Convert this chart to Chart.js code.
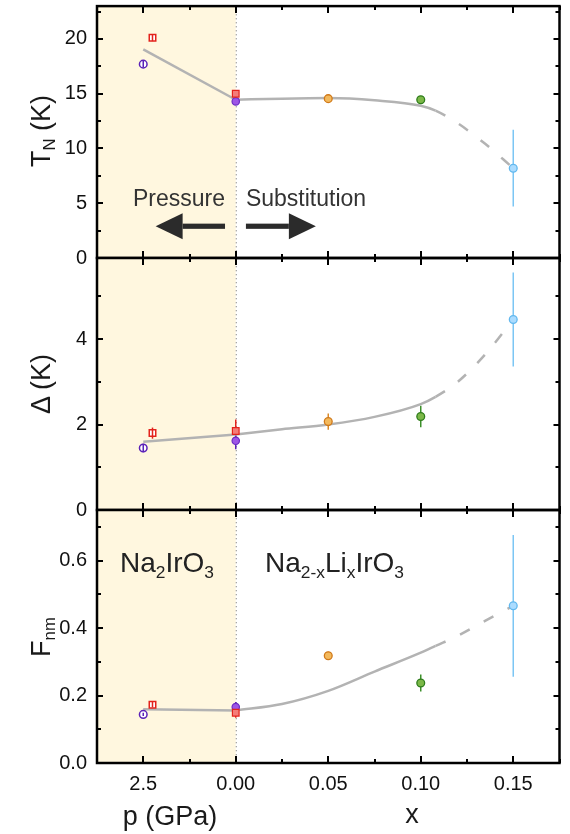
<!DOCTYPE html>
<html lang="en">
<head>
<meta charset="UTF-8">
<title>Na2IrO3: pressure vs Li substitution</title>
<script src="https://cdn.jsdelivr.net/npm/chart.js@4"></script>
<style>
  body { margin: 0; background: #fff; font-family: "Liberation Sans", Arial, sans-serif; }
  #wrap { position: relative; width: 570px; height: 834px; overflow: hidden; }
  canvas { position: absolute; left: 0; }
  .lbl { position: absolute; white-space: nowrap; color: #1a1a1a; line-height: 1; z-index: 5; }
  .ytitle { font-size: 27px; transform: translate(-50%, -50%) rotate(-90deg); }
  .xtitle { font-size: 27px; transform: translate(-50%, -50%); }
  .note { font-size: 23px; color: #333; transform: translate(-50%, -50%); }
  .formula { font-size: 28px; color: #222; transform: translateY(-50%); }
  .s { font-size: 0.62em; position: relative; top: 0.32em; }
</style>
</head>
<body>
<div id="wrap">
  <canvas id="tnChart" width="570" height="275" style="top:0px"></canvas>
  <canvas id="dChart" width="570" height="285" style="top:245px"></canvas>
  <canvas id="fChart" width="570" height="337" style="top:497px"></canvas>

  <div class="lbl ytitle" style="left:41px; top:131px">T<span class="s">N</span> (K)</div>
  <div class="lbl ytitle" style="left:41px; top:384px">&Delta; (K)</div>
  <div class="lbl ytitle" style="left:41px; top:637px">F<span class="s">nm</span></div>
  <div class="lbl xtitle" style="left:170px; top:816px">p (GPa)</div>
  <div class="lbl xtitle" style="left:412px; top:814px">x</div>
  <div class="lbl note" style="left:179px; top:198px">Pressure</div>
  <div class="lbl note" style="left:306px; top:198px">Substitution</div>
  <div class="lbl formula" style="left:120px; top:563px">Na<span class="s">2</span>IrO<span class="s">3</span></div>
  <div class="lbl formula" style="left:265px; top:563px">Na<span class="s">2-x</span>Li<span class="s">x</span>IrO<span class="s">3</span></div>
</div>

<script>
// shared x axis: substitution x on the right, pressure (GPa) folded to the left of 0
const GPA_TO_AXIS = -0.02;          // 2.5 GPa sits where x = -0.05 would be
const xMajorTicks = [-0.05, 0, 0.05, 0.10, 0.15];
const xMajorLabels = ['2.5', '0.00', '0.05', '0.10', '0.15'];

// pressure runs (open symbols), p in GPa
const presCircleP = [2.5];
const presSquareP = [2.25];
// ambient Na2IrO3 and Li-substituted samples
const ambientX = [0];
const subX = [0.05, 0.10, 0.15];

// T_N (K)
const tnPresCircle = [17.7],  tnPresCircleErr = [0.3];
const tnPresSquare = [20.1],  tnPresSquareErr = [0.3];
const tnAmbSquare = [15.0],   tnAmbSquareErr = [0.3];
const tnAmbCircle = [14.3],   tnAmbCircleErr = [0.2];
const tnSub = [14.55, 14.45, 8.2], tnSubErr = [0.2, 0.2, 3.5];

// Delta (K)
const dPresCircle = [1.45],   dPresCircleErr = [0.1];
const dPresSquare = [1.80],   dPresSquareErr = [0.13];
const dAmbSquare = [1.85],    dAmbSquareErr = [0.27];
const dAmbCircle = [1.62],    dAmbCircleErr = [0.2];
const dSub = [2.07, 2.19, 4.46], dSubErr = [0.19, 0.25, 1.1];

// F_nm
const fPresCircle = [0.144],  fPresCircleErr = [0.005];
const fPresSquare = [0.173],  fPresSquareErr = [0.008];
const fAmbSquare = [0.149],   fAmbSquareErr = [0.015];
const fAmbCircle = [0.166],   fAmbCircleErr = [0.015];
const fSub = [0.318, 0.237, 0.466], fSubErr = [0.012, 0.025, 0.21];

// guide-to-the-eye curves (dashed beyond x = 0.108)
const presGuideP = [2.5, 0];
const tnPresGuide = [19.05, 14.45];
const dPresGuide = [1.6, 1.77];
const fPresGuide = [0.159, 0.156];
const subGuideX = [0, 0.025, 0.05, 0.075, 0.10, 0.108, 0.12, 0.135, 0.15];
const tnSubGuide = [14.45, 14.55, 14.6, 14.4, 13.9, 13.45, 12.3, 10.4, 8.2];
const dSubGuide = [1.77, 1.89, 2.0, 2.18, 2.48, 2.65, 3.0, 3.65, 4.46];
const fSubGuide = [0.156, 0.175, 0.214, 0.271, 0.327, 0.347, 0.377, 0.422, 0.466];
const DASH_FROM = 0.108;

// styles
const RED = '#e3231c', RED_FILL = '#f47c78';
const PURPLE = '#5b22b8', PURPLE_FILL = '#9d55e6';
const subBorder = ['#d0791a', '#2f7d1c', '#62b8ee'];
const subFill = ['#f3b95c', '#7cb848', '#abdcff'];
const GUIDE = '#b3b3b3';

const pts = (xs, ys) => xs.map((v, i) => ({ x: v, y: ys[i] }));
const pAxis = ps => ps.map(p => p * GPA_TO_AXIS);
const isMajorX = v => xMajorTicks.some(m => Math.abs(m - v) < 1e-6);

function drawErrorBars(chart, bars) {
  const { ctx, scales: { x, y } } = chart;
  ctx.lineWidth = 1.5;
  bars.forEach(b => {
    b.xs.forEach((xv, i) => {
      ctx.strokeStyle = Array.isArray(b.color) ? b.color[i] : b.color;
      const px = x.getPixelForValue(xv);
      ctx.beginPath();
      ctx.moveTo(px, y.getPixelForValue(b.ys[i] - b.errs[i]));
      ctx.lineTo(px, y.getPixelForValue(b.ys[i] + b.errs[i]));
      ctx.stroke();
    });
  });
}

function drawArrow(ctx, x0, x1, py) {
  const dir = Math.sign(x1 - x0), head = 27, half = 13;
  ctx.fillStyle = '#2b2b2b';
  ctx.fillRect(Math.min(x0, x1 - dir * head), py - 2.6, Math.abs(x1 - dir * head - x0), 5.2);
  ctx.beginPath();
  ctx.moveTo(x1, py);
  ctx.lineTo(x1 - dir * head, py - half);
  ctx.lineTo(x1 - dir * head, py + half);
  ctx.closePath();
  ctx.fill();
}

// shading, divider, error bars, frame with inward ticks
const deco = {
  id: 'deco',
  beforeDatasetsDraw(chart, args, opts) {
    const { ctx, chartArea: a, scales: { x } } = chart;
    const x0 = x.getPixelForValue(0);
    ctx.save();
    ctx.fillStyle = '#fff7df';
    ctx.fillRect(a.left, a.top, x0 - a.left, a.bottom - a.top);
    ctx.strokeStyle = '#8a8a8a';
    ctx.lineWidth = 1;
    ctx.setLineDash([1.3, 2.7]);
    ctx.beginPath();
    ctx.moveTo(x0 + 0.5, a.top);
    ctx.lineTo(x0 + 0.5, a.bottom);
    ctx.stroke();
    ctx.setLineDash([]);
    drawErrorBars(chart, opts.errors.filter(e => !e.above));
    ctx.restore();
  },
  afterDatasetsDraw(chart, args, opts) {
    const { ctx, chartArea: a, scales: { x, y } } = chart;
    ctx.save();
    drawErrorBars(chart, opts.errors.filter(e => e.above));
    (opts.arrows || []).forEach(ar =>
      drawArrow(ctx, x.getPixelForValue(ar.from), x.getPixelForValue(ar.to), y.getPixelForValue(ar.y)));
    ctx.strokeStyle = '#000';
    ctx.lineWidth = 2.5;
    ctx.strokeRect(a.left, a.top, a.right - a.left, a.bottom - a.top);
    ctx.lineWidth = 2;
    x.ticks.forEach(t => {
      const px = Math.round(x.getPixelForValue(t.value));
      const len = isMajorX(t.value) ? 7 : 4;
      ctx.beginPath();
      ctx.moveTo(px, a.bottom); ctx.lineTo(px, a.bottom - len);
      ctx.moveTo(px, a.top); ctx.lineTo(px, a.top + len);
      ctx.stroke();
    });
    y.ticks.forEach(t => {
      const py = Math.round(y.getPixelForValue(t.value));
      const len = t.label !== '' ? 6 : 4;
      ctx.beginPath();
      ctx.moveTo(a.left, py); ctx.lineTo(a.left + len, py);
      ctx.moveTo(a.right, py); ctx.lineTo(a.right - len, py);
      ctx.stroke();
    });
    ctx.restore();
  }
};

function makePanel(id, p) {
  const openPt = { showLine: false, pointBackgroundColor: '#fff', pointBorderWidth: 1.5 };
  return new Chart(document.getElementById(id), {
    type: 'scatter',
    plugins: [deco],
    data: {
      datasets: [
        { ...openPt, data: pts(pAxis(presSquareP), p.presSquare), pointStyle: 'rect', pointRadius: 4.6, pointBorderColor: RED },
        { ...openPt, data: pts(pAxis(presCircleP), p.presCircle), pointStyle: 'circle', pointRadius: 3.8, pointBorderColor: PURPLE },
        { data: pts(ambientX, p.ambSquare), pointStyle: 'rect', pointRadius: 4.7, pointBackgroundColor: RED_FILL, pointBorderColor: RED, pointBorderWidth: 1.2 },
        { data: pts(ambientX, p.ambCircle), pointStyle: 'circle', pointRadius: 3.7, pointBackgroundColor: PURPLE_FILL, pointBorderColor: '#6a2cc4', pointBorderWidth: 1.2 },
        { data: pts(subX, p.sub), pointStyle: 'circle', pointRadius: 3.9, pointBackgroundColor: subFill, pointBorderColor: subBorder, pointBorderWidth: 1.3 },
        { data: pts(subGuideX, p.subGuide), showLine: true, pointRadius: 0, borderColor: GUIDE, borderWidth: 2.5,
          cubicInterpolationMode: 'monotone',
          segment: { borderDash: c => (c.p0.parsed.x >= DASH_FROM - 1e-9 ? [11, 16] : undefined) } },
        { data: pts(pAxis(presGuideP), p.presGuide), showLine: true, pointRadius: 0, borderColor: GUIDE, borderWidth: 2.5 }
      ]
    },
    options: {
      responsive: false,
      animation: false,
      events: [],
      layout: { padding: { left: 0, right: 10.5, top: p.padTop, bottom: p.padBottom } },
      plugins: {
        legend: { display: false },
        tooltip: { enabled: false },
        deco: {
          arrows: p.arrows,
          errors: [
            { xs: pAxis(presSquareP), ys: p.presSquare, errs: p.presSquareErr, color: RED, above: true },
            { xs: pAxis(presCircleP), ys: p.presCircle, errs: p.presCircleErr, color: PURPLE, above: true },
            { xs: ambientX, ys: p.ambSquare, errs: p.ambSquareErr, color: RED },
            { xs: ambientX, ys: p.ambCircle, errs: p.ambCircleErr, color: PURPLE },
            { xs: subX, ys: p.sub, errs: p.subErr, color: ['#d98a2a', '#3c8f2a', '#7cc6f4'] }
          ]
        }
      },
      scales: {
        x: {
          type: 'linear', min: -0.075, max: 0.175,
          grid: { display: false, drawTicks: false },
          border: { display: false },
          ticks: {
            display: p.showX, stepSize: 0.025, autoSkip: false, maxRotation: 0, includeBounds: false,
            padding: 9, color: '#111', font: { family: '"Liberation Sans", Arial, sans-serif', size: 20 },
            callback: v => { const i = xMajorTicks.findIndex(m => Math.abs(m - v) < 1e-6); return i >= 0 ? xMajorLabels[i] : ''; }
          },
          afterFit: s => { s.height = p.showX ? 40 : 0; s.paddingLeft = 0; s.paddingRight = 0; }
        },
        y: {
          type: 'linear', min: 0, max: p.yMax,
          grid: { display: false, drawTicks: false },
          border: { display: false },
          ticks: {
            stepSize: p.yStep, includeBounds: false, autoSkip: false, padding: 10, color: '#111',
            font: { family: '"Liberation Sans", Arial, sans-serif', size: 20 },
            callback: p.yLabel
          },
          afterFit: s => { s.width = 97; s.paddingTop = 0; s.paddingBottom = 0; }
        }
      }
    }
  });
}

makePanel('tnChart', {
  presCircle: tnPresCircle, presCircleErr: tnPresCircleErr,
  presSquare: tnPresSquare, presSquareErr: tnPresSquareErr,
  ambSquare: tnAmbSquare, ambSquareErr: tnAmbSquareErr,
  ambCircle: tnAmbCircle, ambCircleErr: tnAmbCircleErr,
  sub: tnSub, subErr: tnSubErr,
  presGuide: tnPresGuide, subGuide: tnSubGuide,
  yMax: 23, yStep: 2.5,
  yLabel: v => (Math.abs(v % 5) < 1e-9 ? String(v) : ''),
  arrows: [{ from: -0.0058, to: -0.0433, y: 2.9 }, { from: 0.0055, to: 0.0433, y: 2.9 }],
  padTop: 5, padBottom: 17, showX: false
});

makePanel('dChart', {
  presCircle: dPresCircle, presCircleErr: dPresCircleErr,
  presSquare: dPresSquare, presSquareErr: dPresSquareErr,
  ambSquare: dAmbSquare, ambSquareErr: dAmbSquareErr,
  ambCircle: dAmbCircle, ambCircleErr: dAmbCircleErr,
  sub: dSub, subErr: dSubErr,
  presGuide: dPresGuide, subGuide: dSubGuide,
  yMax: 5.9, yStep: 1,
  yLabel: v => (Math.round(v) % 2 === 0 ? String(Math.round(v)) : ''),
  padTop: 13, padBottom: 20, showX: false
});

makePanel('fChart', {
  presCircle: fPresCircle, presCircleErr: fPresCircleErr,
  presSquare: fPresSquare, presSquareErr: fPresSquareErr,
  ambSquare: fAmbSquare, ambSquareErr: fAmbSquareErr,
  ambCircle: fAmbCircle, ambCircleErr: fAmbCircleErr,
  sub: fSub, subErr: fSubErr,
  presGuide: fPresGuide, subGuide: fSubGuide,
  yMax: 0.75, yStep: 0.1,
  yLabel: v => { const k = Math.round(v * 10); return k % 2 === 0 ? (k / 10).toFixed(1) : ''; },
  padTop: 13, padBottom: 31, showX: true
});
</script>
</body>
</html>
